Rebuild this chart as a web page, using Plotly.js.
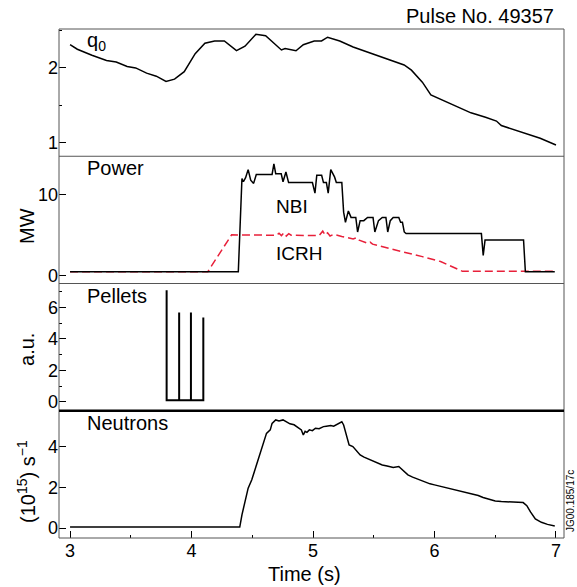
<!DOCTYPE html>
<html>
<head>
<meta charset="utf-8">
<script src="https://cdn.plot.ly/plotly-3.0.1.min.js"></script>
<style>html,body{margin:0;padding:0;background:#fff;}#chart{width:577px;height:587px;}</style>
</head>
<body>
<div id="chart"></div>
<script>
// q0
var qT = [3.0, 3.06, 3.18, 3.30, 3.38, 3.47, 3.54, 3.63, 3.71, 3.79, 3.86, 3.94, 4.03, 4.11, 4.19, 4.27, 4.37, 4.44, 4.53, 4.61, 4.74, 4.77, 4.86, 4.92, 5.01, 5.07, 5.12, 5.22, 5.33, 5.45, 5.57, 5.69, 5.75, 5.81, 5.90, 5.97, 6.14, 6.30, 6.42, 6.51, 6.55, 6.72, 6.87, 7.00];
var qV = [2.31, 2.25, 2.17, 2.10, 2.08, 2.02, 2.00, 1.93, 1.89, 1.82, 1.85, 1.95, 2.19, 2.33, 2.36, 2.36, 2.23, 2.29, 2.45, 2.43, 2.24, 2.26, 2.23, 2.31, 2.36, 2.36, 2.41, 2.36, 2.28, 2.21, 2.14, 2.08, 2.04, 1.97, 1.81, 1.64, 1.52, 1.40, 1.34, 1.29, 1.23, 1.14, 1.06, 0.97];

// NBI power (MW)
var nbiT = [3.0, 4.385, 4.415, 4.427, 4.445, 4.466, 4.487, 4.511, 4.533, 4.663, 4.678, 4.693, 4.738, 4.753, 4.777, 4.799, 4.995, 5.016, 5.031, 5.071, 5.086, 5.110, 5.125, 5.146, 5.177, 5.192, 5.237, 5.252, 5.267, 5.291, 5.313, 5.352, 5.367, 5.388, 5.418, 5.449, 5.494, 5.509, 5.539, 5.570, 5.600, 5.615, 5.636, 5.660, 5.706, 5.721, 5.736, 5.751, 5.766, 6.386, 6.401, 6.416, 6.733, 6.748, 6.99];
var nbiP = [0.5, 0.5, 12.0, 11.6, 12.1, 13.1, 11.8, 11.4, 12.5, 12.5, 13.8, 12.6, 12.6, 11.6, 12.8, 11.5, 11.5, 10.2, 12.4, 12.4, 11.5, 11.5, 10.2, 13.1, 12.2, 11.5, 11.5, 7.85, 6.6, 8.0, 7.2, 7.2, 5.4, 6.8, 6.8, 7.2, 7.2, 5.4, 6.8, 7.2, 7.2, 5.4, 6.8, 7.2, 7.2, 6.6, 6.6, 5.4, 5.2, 5.2, 2.5, 4.4, 4.4, 0.5, 0.5];

// ICRH power (MW)
var icT = [3.0, 4.134, 4.33, 4.55, 4.70, 4.72, 4.74, 4.76, 4.78, 4.80, 4.82, 5.05, 5.08, 5.10, 5.12, 5.14, 5.17, 5.237, 5.33, 5.36, 5.38, 5.45, 5.47, 5.49, 5.60, 5.75, 5.90, 6.05, 6.23, 7.0];
var icP = [0.5, 0.5, 5.05, 5.0, 5.0, 5.25, 4.95, 5.3, 4.9, 5.2, 5.0, 4.95, 5.5, 5.0, 5.3, 4.9, 5.1, 4.85, 4.55, 4.7, 4.4, 4.0, 4.15, 3.9, 3.45, 2.9, 2.36, 1.75, 0.54, 0.54];

// Pellets (a.u.)
var pelT = [3.795, 3.795, 3.898, 3.898, 3.898, 3.995, 3.995, 3.995, 4.097, 4.097];
var pelV = [7.1, 0.1, 0.1, 5.68, 0.1, 0.1, 5.68, 0.1, 0.1, 5.36];

// Neutrons (1e15 /s)
var nT = [3.0, 4.397, 4.415, 4.436, 4.466, 4.496, 4.542, 4.587, 4.617, 4.648, 4.663, 4.693, 4.72, 4.753, 4.784, 4.81, 4.844, 4.87, 4.904, 4.92, 4.935, 4.95, 4.97, 4.995, 5.02, 5.05, 5.086, 5.11, 5.146, 5.17, 5.207, 5.237, 5.252, 5.275, 5.297, 5.328, 5.36, 5.388, 5.42, 5.449, 5.48, 5.509, 5.54, 5.570, 5.61, 5.660, 5.706, 5.736, 5.781, 5.82, 5.872, 5.92, 5.963, 6.0, 6.053, 6.10, 6.144, 6.19, 6.235, 6.28, 6.325, 6.36, 6.40, 6.45, 6.50, 6.55, 6.60, 6.65, 6.70, 6.73, 6.76, 6.79, 6.83, 6.88, 6.93, 6.99];
var nV = [0.05, 0.05, 0.65, 1.14, 1.96, 2.37, 3.27, 4.08, 4.65, 4.82, 5.14, 5.31, 5.26, 5.31, 5.2, 5.12, 5.07, 4.95, 4.82, 4.57, 4.75, 4.7, 4.82, 4.78, 4.9, 4.88, 4.98, 5.0, 5.03, 5.0, 5.14, 5.22, 5.06, 4.6, 4.08, 4.0, 3.8, 3.59, 3.48, 3.40, 3.32, 3.27, 3.18, 3.10, 3.05, 2.97, 3.02, 2.86, 2.61, 2.5, 2.37, 2.25, 2.17, 2.12, 2.04, 1.98, 1.91, 1.83, 1.76, 1.70, 1.65, 1.6, 1.5, 1.40, 1.33, 1.30, 1.29, 1.28, 1.27, 1.25, 1.1, 0.79, 0.45, 0.28, 0.18, 0.1];

var xTicks = [3, 4, 5, 6, 7];

var FONT = 'Liberation Sans, Arial, sans-serif';
var blk = {color: '#000', width: 1.5};

var traces = [
  {x: qT, y: qV, xaxis: 'x', yaxis: 'y', mode: 'lines', line: blk, hoverinfo: 'skip'},
  {x: icT, y: icP, xaxis: 'x', yaxis: 'y2', mode: 'lines', line: {color: '#e8203a', width: 1.5, dash: '8px,4px'}, hoverinfo: 'skip'},
  {x: nbiT, y: nbiP, xaxis: 'x', yaxis: 'y2', mode: 'lines', line: blk, hoverinfo: 'skip'},
  {x: pelT, y: pelV, xaxis: 'x', yaxis: 'y3', mode: 'lines', line: {color: '#000', width: 2}, hoverinfo: 'skip'},
  {x: nT, y: nV, xaxis: 'x', yaxis: 'y4', mode: 'lines', line: blk, hoverinfo: 'skip'}
];

function yax(dom, range, dtick, minorDtick) {
  var a = {
    domain: dom, range: range, anchor: 'x', dtick: dtick, tick0: 0,
    ticks: 'inside', ticklen: 7, tickwidth: 1, tickcolor: '#000',
    showgrid: false, zeroline: false, showline: false,
    tickfont: {family: FONT, size: 18, color: '#000'}
  };
  if (minorDtick) a.minor = {ticks: 'inside', ticklen: 3, dtick: minorDtick, tick0: 0, tickcolor: '#000', showgrid: false};
  return a;
}

function ann(text, x, y, opts) {
  var a = {text: text, x: x, y: y, xref: 'paper', yref: 'paper', showarrow: false,
    xanchor: 'left', yanchor: 'middle', font: {family: FONT, size: 20, color: '#000'}};
  for (var k in (opts || {})) a[k] = opts[k];
  return a;
}

var layout = {
  width: 577, height: 587,
  margin: {l: 59, r: 13, t: 29, b: 49},
  paper_bgcolor: '#fff', plot_bgcolor: '#fff',
  showlegend: false,
  xaxis: {
    range: [2.909, 7.066], anchor: 'y4', tickvals: xTicks,
    ticks: 'inside', ticklen: 7, tickcolor: '#000', tickwidth: 1,
    minor: {ticks: 'inside', ticklen: 3, dtick: 0.5, tick0: 0, tickcolor: '#000', showgrid: false},
    showgrid: false, zeroline: false, showline: false,
    tickfont: {family: FONT, size: 18, color: '#000'}
  },
  yaxis: yax([0.75, 1], [0.82, 2.52], 1, 0.5),
  yaxis2: yax([0.5, 0.75], [-0.96, 14.75], 10, null),
  yaxis3: yax([0.25, 0.5], [-0.574, 7.53], 2, 1),
  yaxis4: yax([0, 0.25], [-0.49, 5.76], 2, null),
  shapes: [
    {type: 'rect', xref: 'paper', yref: 'paper', x0: 0, x1: 1, y0: 0, y1: 1, line: {color: '#555', width: 1}},
    {type: 'line', xref: 'paper', yref: 'paper', x0: 0, x1: 1, y0: 0.75, y1: 0.75, line: {color: '#555', width: 1}},
    {type: 'line', xref: 'paper', yref: 'paper', x0: 0, x1: 1, y0: 0.5, y1: 0.5, line: {color: '#555', width: 1}},
    {type: 'line', xref: 'paper', yref: 'paper', x0: 0, x1: 1, y0: 0.25, y1: 0.25, line: {color: '#000', width: 2.5}}
  ],
  annotations: [
    ann('Pulse No. 49357', 0.984, 1.0255, {xanchor: 'right'}),
    ann('q<sub>0</sub>', 0.0515, 0.976),
    ann('Power', 0.0515, 0.727),
    ann('NBI', 0.4257, 0.6503, {font: {family: FONT, size: 19, color: '#000'}}),
    ann('ICRH', 0.4257, 0.5599, {font: {family: FONT, size: 19, color: '#000'}}),
    ann('Pellets', 0.0515, 0.4764),
    ann('Neutrons', 0.0515, 0.2259),
    ann('MW', -0.0634, 0.613, {xanchor: 'center', textangle: -90}),
    ann('a.u.', -0.0634, 0.3713, {xanchor: 'center', textangle: -90}),
    ann('(10<sup>15</sup>) s<sup>\u22121</sup>', -0.0634, 0.112, {xanchor: 'center', textangle: -90}),
    ann('Time (s)', 0.487, -0.0707, {xanchor: 'center'}),
    ann('JG00.185/17c', 1.0139, 0.0727, {xanchor: 'center', textangle: -90, font: {family: FONT, size: 10, color: '#000'}})
  ]
};

Plotly.newPlot('chart', traces, layout, {staticPlot: true, displayModeBar: false});
</script>
</body>
</html>
